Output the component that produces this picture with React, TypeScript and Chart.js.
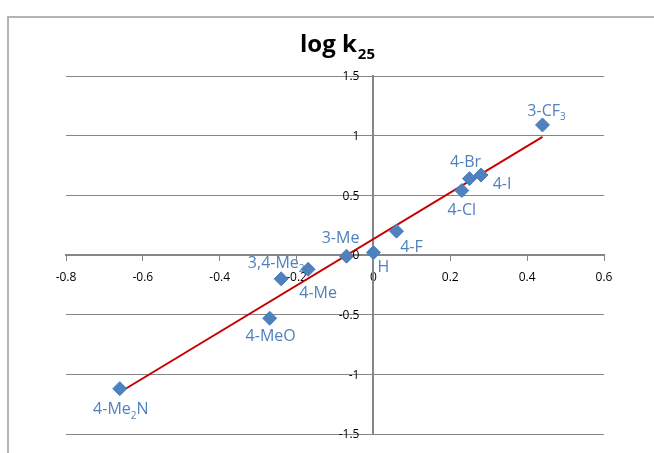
import React, { useEffect, useRef } from "react";
import { Chart, registerables } from "chart.js";

Chart.register(...registerables);

// ---- data ----
const substituents = ["4-Me_2N", "4-MeO", "3,4-Me_2", "4-Me", "3-Me", "H", "4-F", "4-Cl", "4-Br", "4-I", "3-CF_3"];
const sigma = [-0.66, -0.27, -0.24, -0.17, -0.07, 0.0, 0.06, 0.23, 0.25, 0.28, 0.44];
const logK = [-1.12, -0.53, -0.2, -0.12, -0.01, 0.02, 0.2, 0.54, 0.64, 0.67, 1.09];
const fitX = [-0.66, 0.44];
const fitY = [-1.15, 0.99];
const xTicks = [-0.8, -0.6, -0.4, -0.2, 0, 0.2, 0.4, 0.6];
const yTicks = [-1.5, -1, -0.5, 0, 0.5, 1, 1.5];

// label offsets (styling): center of label relative to marker, px
const labelOffsets: [number, number][] = [
  [1, 20], [1, 17], [-5, -17], [10, 23], [-6, -19], [10, 14], [15, 15], [0, 19], [-4, -17], [21, 8], [4, -15],
];

const LABEL_FONT = "Open Sans";
const LABEL_COLOR = "#4F81BD";

function parseRich(s: string) {
  const parts: { t: string; sub: boolean }[] = [];
  let i = 0;
  let buf = "";
  while (i < s.length) {
    if (s[i] === "_" && i + 1 < s.length) {
      if (buf) parts.push({ t: buf, sub: false });
      buf = "";
      parts.push({ t: s[i + 1], sub: true });
      i += 2;
    } else {
      buf += s[i];
      i++;
    }
  }
  if (buf) parts.push({ t: buf, sub: false });
  return parts;
}

function drawRich(ctx: CanvasRenderingContext2D, s: string, cx: number, cy: number, size: number, weight: string, color: string, subScale = 0.65, subShift = 0.3) {
  const parts = parseRich(s);
  const mainFont = `${weight} ${size}px "${LABEL_FONT}"`;
  const subFont = `${weight} ${Math.round(size * subScale)}px "${LABEL_FONT}"`;
  let total = 0;
  const widths = parts.map((p) => {
    ctx.font = p.sub ? subFont : mainFont;
    const w = ctx.measureText(p.t).width;
    total += w;
    return w;
  });
  let x = cx - total / 2;
  ctx.fillStyle = color;
  ctx.textAlign = "left";
  ctx.textBaseline = "alphabetic";
  const baseline = cy + size * 0.36;
  parts.forEach((p, i) => {
    ctx.font = p.sub ? subFont : mainFont;
    ctx.fillText(p.t, x, p.sub ? baseline + size * subShift : baseline);
    x += widths[i];
  });
}

const labelPlugin = {
  id: "pointLabels",
  afterDatasetsDraw(chart: any) {
    const ctx = chart.ctx as CanvasRenderingContext2D;
    const meta = chart.getDatasetMeta(1);
    ctx.save();
    meta.data.forEach((el: any, i: number) => {
      const [dx, dy] = labelOffsets[i];
      drawRich(ctx, substituents[i], el.x + dx, el.y + dy, 16, "normal", LABEL_COLOR);
    });
    ctx.restore();
  },
};

// y tick labels placed left of the centred y axis
const yTickLabelPlugin = {
  id: "yTickLabels",
  afterDraw(chart: any) {
    const ctx = chart.ctx as CanvasRenderingContext2D;
    const ys = chart.scales.y;
    const xs = chart.scales.x;
    const ax = xs.getPixelForValue(0);
    ctx.save();
    ctx.font = `12px "${LABEL_FONT}"`;
    ctx.fillStyle = "#000";
    ctx.textAlign = "right";
    ctx.textBaseline = "middle";
    ys.ticks.forEach((t: any) => {
      ctx.fillText(fmt(t.value), ax - 14, ys.getPixelForValue(t.value) + 1);
    });
    ctx.restore();
  },
};

const titlePlugin = {
  id: "richTitle",
  afterDraw(chart: any) {
    const ctx = chart.ctx as CanvasRenderingContext2D;
    ctx.save();
    const main = "log k";
    const sub = "25";
    ctx.font = `bold 24px "${LABEL_FONT}"`;
    const w1 = ctx.measureText(main).width;
    ctx.font = `bold 15px "${LABEL_FONT}"`;
    const w2 = ctx.measureText(sub).width;
    const cx = 337;
    let x = cx - (w1 + w2) / 2;
    ctx.fillStyle = "#000";
    ctx.textBaseline = "alphabetic";
    ctx.textAlign = "left";
    ctx.font = `bold 24px "${LABEL_FONT}"`;
    ctx.fillText(main, x, 52);
    x += w1 + 1;
    ctx.font = `bold 15px "${LABEL_FONT}"`;
    ctx.fillText(sub, x, 59);
    ctx.restore();
  },
};

function fmt(v: number) {
  const r = Math.round(v * 10) / 10;
  return (Object.is(r, -0) ? 0 : r).toString();
}

export default function App() {
  const ref = useRef<HTMLCanvasElement | null>(null);
  useEffect(() => {
    if (!ref.current) return;
    const chart = new Chart(ref.current, {
      type: "scatter",
      data: {
        datasets: [
          {
            type: "line",
            data: fitX.map((x, i) => ({ x, y: fitY[i] })),
            borderColor: "#C80000",
            borderWidth: 2,
            pointRadius: 0,
            fill: false,
            order: 2,
          } as any,
          {
            data: sigma.map((x, i) => ({ x, y: logK[i] })),
            pointStyle: "rectRot",
            pointRadius: 7,
            backgroundColor: "#4F81BD",
            borderColor: "#4A7EBB",
            borderWidth: 1,
            order: 1,
          },
        ],
      },
      options: {
        responsive: false,
        animation: false,
        layout: { padding: { left: 66, right: 50, top: 76, bottom: 19 } },
        plugins: { legend: { display: false }, tooltip: { enabled: false }, title: { display: false } },
        scales: {
          x: {
            type: "linear",
            position: { y: 0 } as any,
            min: -0.8,
            max: 0.6,
            afterBuildTicks: (axis: any) => {
              axis.ticks = xTicks.map((v) => ({ value: v }));
            },
            ticks: {
              callback: (v: any) => fmt(Number(v)),
              font: { family: LABEL_FONT, size: 12 },
              color: "#000",
              padding: 10,
              maxRotation: 0,
              autoSkip: false,
            },
            grid: { display: true, drawOnChartArea: false, drawTicks: true, tickLength: 5, color: "#868686" },
            border: { display: true, color: "#868686", width: 2 },
          },
          y: {
            type: "linear",
            position: { x: 0 } as any,
            min: -1.5,
            max: 1.5,
            afterBuildTicks: (axis: any) => {
              axis.ticks = yTicks.map((v) => ({ value: v }));
            },
            ticks: {
              display: false,
              autoSkip: false,
            },
            grid: { display: true, drawOnChartArea: true, drawTicks: true, tickLength: 5, color: "#868686", lineWidth: 1 },
            border: { display: true, color: "#868686", width: 2 },
          },
        },
      },
      plugins: [labelPlugin, yTickLabelPlugin, titlePlugin],
    });
    return () => chart.destroy();
  }, []);
  return (
    <div style={{ position: "fixed", left: 0, top: 0, width: 654, height: 453, background: "#fff", overflow: "hidden" }}>
      <div
        style={{
          position: "absolute",
          left: 7,
          top: 16,
          width: 700,
          height: 500,
          borderLeft: "2px solid #b4b4b4",
          borderTop: "2px solid #b4b4b4",
        }}
      />
      <canvas ref={ref} width={654} height={453} style={{ position: "absolute", left: 0, top: 0, width: 654, height: 453 }} />
    </div>
  );
}
